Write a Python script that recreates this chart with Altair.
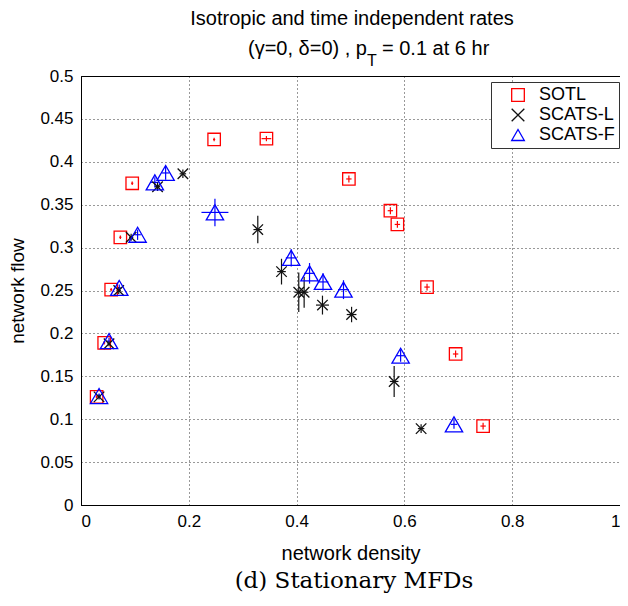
import altair as alt
import pandas as pd

series_names = ["SOTL", "SCATS-L", "SCATS-F"]

sotl_x = [0.029, 0.043, 0.056, 0.073, 0.095, 0.247, 0.344, 0.497, 0.574, 0.587, 0.642, 0.695, 0.746]
sotl_y = [0.126, 0.189, 0.251, 0.312, 0.375, 0.426, 0.427, 0.380, 0.343, 0.327, 0.254, 0.176, 0.092]
sotl_xerr = [0.002, 0.002, 0.002, 0.002, 0.002, 0.002, 0.009, 0.005, 0.005, 0.005, 0.005, 0.005, 0.005]
sotl_yerr = [0.002, 0.002, 0.002, 0.002, 0.002, 0.002, 0.003, 0.004, 0.004, 0.004, 0.004, 0.004, 0.004]

scatsl_x = [0.0335, 0.052, 0.070, 0.093, 0.142, 0.189, 0.328, 0.372, 0.404, 0.414, 0.448, 0.502, 0.581, 0.631]
scatsl_y = [0.126, 0.188, 0.250, 0.312, 0.371, 0.386, 0.321, 0.272, 0.248, 0.248, 0.233, 0.222, 0.144, 0.089]
scatsl_xerr = [0.003, 0.003, 0.004, 0.004, 0.005, 0.006, 0.008, 0.008, 0.008, 0.008, 0.012, 0.009, 0.008, 0.006]
scatsl_yerr = [0.003, 0.003, 0.004, 0.004, 0.005, 0.005, 0.016, 0.015, 0.023, 0.018, 0.011, 0.009, 0.018, 0.005]

scatsf_x = [0.0335, 0.052, 0.071, 0.105, 0.137, 0.157, 0.2485, 0.390, 0.424, 0.449, 0.487, 0.593, 0.692]
scatsf_y = [0.127, 0.191, 0.253, 0.315, 0.376, 0.387, 0.341, 0.288, 0.270, 0.260, 0.251, 0.174, 0.094]
scatsf_xerr = [0.003, 0.004, 0.004, 0.006, 0.007, 0.007, 0.025, 0.010, 0.010, 0.010, 0.010, 0.008, 0.006]
scatsf_yerr = [0.003, 0.004, 0.004, 0.006, 0.006, 0.008, 0.016, 0.010, 0.012, 0.010, 0.011, 0.007, 0.005]

x_ticks = [0, 0.2, 0.4, 0.6, 0.8, 1]
y_ticks = [0, 0.05, 0.1, 0.15, 0.2, 0.25, 0.3, 0.35, 0.4, 0.45, 0.5]

title_line1 = ["Isotropic and time independent rates"]
title_line2a = ["(γ=0, δ=0) , p"]
title_line2b = ["T"]
title_line2c = ["= 0.1 at 6 hr"]
caption = ["(d) Stationary MFDs"]

rows = []
for name, xs, ys, xe, ye in [
    ("SOTL", sotl_x, sotl_y, sotl_xerr, sotl_yerr),
    ("SCATS-L", scatsl_x, scatsl_y, scatsl_xerr, scatsl_yerr),
    ("SCATS-F", scatsf_x, scatsf_y, scatsf_xerr, scatsf_yerr),
]:
    for a, b, c, d in zip(xs, ys, xe, ye):
        rows.append({"series": name, "x": a, "y": b, "xerr": c, "yerr": d})
df = pd.DataFrame(rows)

FONT = "Liberation Sans"
colors = ["#ff0000", "#111111", "#0000ff"]
shapes = ["square", "M-1,-1L1,1M-1,1L1,-1", "triangle-up"]

W, H = 539, 429

xscale = alt.Scale(domain=[0, 1], nice=False, zero=False)
yscale = alt.Scale(domain=[0, 0.5], nice=False, zero=False)

xaxis = alt.Axis(values=x_ticks, format="~g", title="network density", grid=True,
                 gridDash=[1, 3], gridColor="#000", gridOpacity=0.8, tickSize=0,
                 labelPadding=8, titlePadding=14, labelFontSize=17, titleFontSize=20,
                 labelFont=FONT, titleFont=FONT, titleFontWeight="normal",
                 labelColor="#000", titleColor="#000", domainColor="#000")
yaxis = alt.Axis(values=y_ticks, format="~g", title="network flow", grid=True,
                 gridDash=[1, 3], gridColor="#000", gridOpacity=0.8, tickSize=0,
                 labelPadding=8, titlePadding=12, labelFontSize=17, titleFontSize=19,
                 labelFont=FONT, titleFont=FONT, titleFontWeight="normal",
                 labelColor="#000", titleColor="#000", domainColor="#000")

base = alt.Chart(df).transform_calculate(
    clr="datum.series == 'SOTL' ? '#ff0000' : (datum.series == 'SCATS-L' ? '#111111' : '#0000ff')",
    sz="datum.series == 'SOTL' ? 155 : (datum.series == 'SCATS-L' ? 110 : 300)",
    xlo="datum.x - datum.xerr", xhi="datum.x + datum.xerr",
    ylo="datum.y - datum.yerr", yhi="datum.y + datum.yerr",
)

errx = base.mark_rule(strokeWidth=1.2).encode(
    x=alt.X("xlo:Q", scale=xscale, axis=xaxis),
    x2="xhi:Q",
    y=alt.Y("y:Q", scale=yscale, axis=yaxis),
    color=alt.Color("clr:N", scale=None),
)
erry = base.mark_rule(strokeWidth=1.2).encode(
    x=alt.X("x:Q", scale=xscale, axis=xaxis),
    y=alt.Y("ylo:Q", scale=yscale, axis=yaxis),
    y2="yhi:Q",
    color=alt.Color("clr:N", scale=None),
)

points = base.mark_point(filled=False, strokeWidth=1.3, opacity=1).encode(
    x=alt.X("x:Q", scale=xscale, axis=xaxis),
    y=alt.Y("y:Q", scale=yscale, axis=yaxis),
    color=alt.Color("series:N", scale=alt.Scale(domain=series_names, range=colors),
                    legend=alt.Legend(title=None)),
    shape=alt.Shape("series:N", scale=alt.Scale(domain=series_names, range=shapes),
                    legend=alt.Legend(title=None)),
    size=alt.Size("sz:Q", scale=None),
)

def text_layer(vals, x, y, align, size, font=FONT):
    return alt.Chart(pd.DataFrame({"t": vals})).mark_text(
        font=font, fontSize=size, align=align, baseline="alphabetic", color="#000"
    ).encode(text="t:N", x=alt.value(x), y=alt.value(y))

t1 = text_layer(title_line1, 271, -51, "center", 20)
t2a = text_layer(title_line2a, 286, -21, "right", 20)
t2b = text_layer(title_line2b, 286, -10, "left", 16)
t2c = text_layer(title_line2c, 301, -21, "left", 20)
cap = text_layer(caption, 273, 512, "center", 23, "DejaVu Serif")

chart = alt.layer(errx, erry, points, t1, t2a, t2b, t2c, cap).properties(
    width=W, height=H,
    autosize=alt.AutoSizeParams(type="none"),
    padding={"left": 73, "top": 68, "right": 0, "bottom": 88},
).configure_view(stroke="#000", strokeWidth=1).configure_legend(
    orient="none", legendX=W - 129, legendY=6, padding=4, symbolOffset=14,
    labelOffset=12, labelFont=FONT, labelFontSize=18, labelColor="#000",
    strokeColor="#333", fillColor="#fff", rowPadding=2, symbolStrokeWidth=1.3,
    symbolSize=160, cornerRadius=0,
)

chart.save("out.html", embed_options={"renderer": "svg", "actions": False})
